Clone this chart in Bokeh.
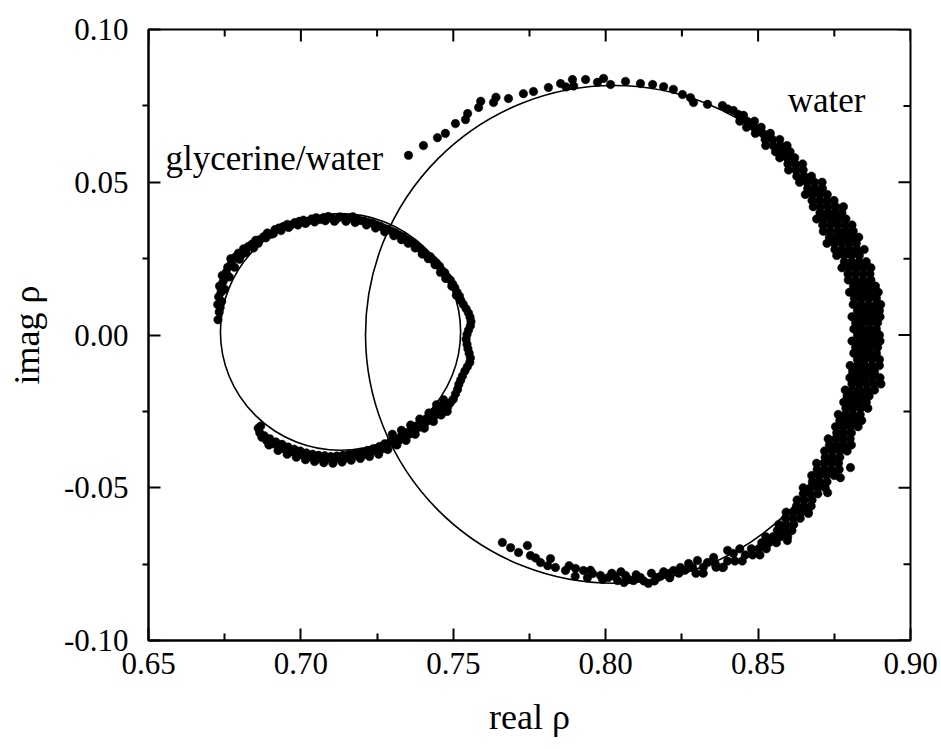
import math
from bokeh.plotting import figure
from bokeh.models import Range1d, LinearAxis, FixedTicker
from bokeh.core.properties import value
from bokeh.embed import file_html
from bokeh.resources import INLINE

# ---------------- data ----------------
x_ticks = [0.65, 0.70, 0.75, 0.80, 0.85, 0.90]
x_tick_labels = ["0.65", "0.70", "0.75", "0.80", "0.85", "0.90"]
x_minor = [0.675, 0.725, 0.775, 0.825, 0.875]
y_ticks = [-0.10, -0.05, 0.0, 0.05, 0.10]
y_tick_labels = ["-0.10", "-0.05", "0.00", "0.05", "0.10"]
y_minor = [-0.075, -0.025, 0.025, 0.075]

# fitted circles (glycerine/water, water)
fit_cx = [0.7130, 0.8027]
fit_cy = [0.0010, 0.0002]
fit_w = [0.0788, 0.1630]
fit_h = [0.0775, 0.1630]

glyc_pts = [
    # left start and upper arc
    (0.6728, 0.0050), (0.6732, 0.0075), (0.6727, 0.0100), (0.6735, 0.0090), (0.6730, 0.0125),
    (0.6738, 0.0140), (0.6733, 0.0160), (0.6745, 0.0175), (0.6742, 0.0195), (0.6755, 0.0205),
    (0.6760, 0.0222), (0.6772, 0.0235), (0.6770, 0.0250), (0.6785, 0.0255), (0.6795, 0.0268),
    (0.6805, 0.0262), (0.6812, 0.0282), (0.6828, 0.0290), (0.6840, 0.0298), (0.6852, 0.0310),
    (0.6865, 0.0312), (0.6878, 0.0322), (0.6890, 0.0334), (0.6903, 0.0330), (0.6915, 0.0345),
    (0.6928, 0.0350), (0.6942, 0.0355), (0.6955, 0.0362), (0.6968, 0.0360), (0.6980, 0.0368),
    (0.6995, 0.0372), (0.7008, 0.0376), (0.7022, 0.0372), (0.7035, 0.0380), (0.7050, 0.0384),
    (0.7062, 0.0378), (0.7075, 0.0385), (0.7090, 0.0388), (0.7102, 0.0382), (0.7115, 0.0378),
    (0.7128, 0.0386), (0.7142, 0.0384), (0.7155, 0.0380), (0.7170, 0.0387), (0.7182, 0.0379),
    (0.7195, 0.0375), (0.7208, 0.0372), (0.7222, 0.0368), (0.7235, 0.0366), (0.7248, 0.0360),
    (0.7260, 0.0356), (0.7272, 0.0350), (0.7285, 0.0346), (0.7298, 0.0340), (0.7310, 0.0335),
    (0.7322, 0.0327), (0.7335, 0.0322), (0.7347, 0.0313), (0.7358, 0.0306), (0.7370, 0.0298),
    (0.7382, 0.0290), (0.7392, 0.0282), (0.7402, 0.0272), (0.7412, 0.0262), (0.7425, 0.0256),
    (0.7435, 0.0245), (0.7445, 0.0236), (0.7455, 0.0225), (0.7462, 0.0212), (0.7472, 0.0204),
    (0.7480, 0.0190), (0.7490, 0.0180), (0.7498, 0.0167), (0.7505, 0.0155), (0.7512, 0.0140),
    (0.7520, 0.0128), (0.7525, 0.0113),
    # second (inner) row of upper arc
    (0.6740, 0.0110), (0.6750, 0.0150), (0.6765, 0.0190), (0.6782, 0.0222), (0.6798, 0.0248),
    (0.6820, 0.0270), (0.6845, 0.0285), (0.6860, 0.0300), (0.6885, 0.0318), (0.6910, 0.0332),
    (0.6935, 0.0342), (0.6960, 0.0352), (0.6990, 0.0360), (0.7015, 0.0365), (0.7045, 0.0370),
    (0.7080, 0.0374), (0.7110, 0.0372), (0.7148, 0.0372), (0.7178, 0.0368), (0.7215, 0.0360),
    (0.7245, 0.0350), (0.7275, 0.0338), (0.7305, 0.0325), (0.7330, 0.0312), (0.7352, 0.0300),
    (0.7375, 0.0285), (0.7398, 0.0265), (0.7418, 0.0250), (0.7440, 0.0230), (0.7458, 0.0205),
    (0.7475, 0.0185), (0.7495, 0.0160), (0.7510, 0.0130),
    # right side
    (0.7533, 0.0100), (0.7542, 0.0086), (0.7550, 0.0072), (0.7555, 0.0058), (0.7558, 0.0044),
    (0.7556, 0.0030), (0.7550, 0.0016), (0.7545, 0.0002), (0.7542, -0.0014), (0.7545, -0.0030),
    (0.7548, -0.0045), (0.7552, -0.0060), (0.7556, -0.0075), (0.7554, -0.0090), (0.7546, -0.0104),
    (0.7538, -0.0118), (0.7530, -0.0134), (0.7524, -0.0148), (0.7518, -0.0162), (0.7514, -0.0178),
    (0.7507, -0.0193), (0.7500, -0.0210), (0.7490, -0.0222),
    # lower arc
    (0.7482, -0.0235), (0.7470, -0.0230), (0.7465, -0.0248), (0.7455, -0.0240), (0.7450, -0.0258),
    (0.7440, -0.0250), (0.7435, -0.0268), (0.7425, -0.0262), (0.7420, -0.0280), (0.7410, -0.0275),
    (0.7405, -0.0292), (0.7395, -0.0288), (0.7388, -0.0302), (0.7378, -0.0298), (0.7372, -0.0314),
    (0.7362, -0.0310), (0.7355, -0.0325), (0.7345, -0.0320), (0.7340, -0.0335), (0.7330, -0.0330),
    (0.7322, -0.0345), (0.7312, -0.0340), (0.7305, -0.0352), (0.7295, -0.0348), (0.7285, -0.0360),
    (0.7275, -0.0356), (0.7268, -0.0372), (0.7258, -0.0365), (0.7248, -0.0378), (0.7238, -0.0372),
    (0.7228, -0.0385), (0.7218, -0.0378), (0.7208, -0.0390), (0.7198, -0.0384), (0.7188, -0.0395),
    (0.7178, -0.0388), (0.7168, -0.0398), (0.7158, -0.0390), (0.7148, -0.0402), (0.7138, -0.0394),
    (0.7128, -0.0405), (0.7118, -0.0396), (0.7108, -0.0408), (0.7098, -0.0398), (0.7088, -0.0404),
    (0.7078, -0.0395), (0.7068, -0.0406), (0.7058, -0.0394), (0.7048, -0.0402), (0.7038, -0.0390),
    (0.7028, -0.0398), (0.7018, -0.0386), (0.7008, -0.0394), (0.6998, -0.0380), (0.6988, -0.0388),
    (0.6978, -0.0374), (0.6968, -0.0382), (0.6958, -0.0367), (0.6948, -0.0374), (0.6938, -0.0358),
    (0.6928, -0.0366), (0.6918, -0.0350), (0.6908, -0.0356), (0.6898, -0.0340), (0.6888, -0.0346),
    (0.6880, -0.0330), (0.6872, -0.0335), (0.6865, -0.0320), (0.6860, -0.0305), (0.6868, -0.0298),
    # outer row of lower arc
    (0.6895, -0.0360), (0.6925, -0.0378), (0.6955, -0.0390), (0.6985, -0.0400), (0.7015, -0.0408),
    (0.7045, -0.0414), (0.7075, -0.0418), (0.7105, -0.0420), (0.7135, -0.0416), (0.7165, -0.0410),
    (0.7195, -0.0404), (0.7225, -0.0398), (0.7255, -0.0390), (0.7285, -0.0375), (0.7315, -0.0360),
    (0.7345, -0.0345), (0.7375, -0.0325), (0.7405, -0.0305), (0.7435, -0.0283), (0.7460, -0.0262),
    (0.7480, -0.0250),
    # inner row of lower-right arc
    (0.7300, -0.0325), (0.7330, -0.0312), (0.7360, -0.0295), (0.7390, -0.0275), (0.7420, -0.0255),
    (0.7445, -0.0228), (0.7468, -0.0212),
]

water_upper_pts = [
    (0.7353, 0.0588), (0.7402, 0.0620), (0.7448, 0.0646), (0.7474, 0.0660), (0.7507, 0.0692),
    (0.7547, 0.0725), (0.7540, 0.0705), (0.7583, 0.0745), (0.7590, 0.0765), (0.7632, 0.0761),
    (0.7640, 0.0778), (0.7681, 0.0774), (0.7730, 0.0790), (0.7763, 0.0797), (0.7812, 0.0810),
    (0.7852, 0.0823), (0.7870, 0.0812), (0.7891, 0.0836), (0.7895, 0.0815), (0.7934, 0.0836),
    (0.7973, 0.0827), (0.7993, 0.0840), (0.8016, 0.0820), (0.8065, 0.0830), (0.8114, 0.0823),
    (0.8154, 0.0820), (0.8190, 0.0813), (0.8222, 0.0804), (0.8252, 0.0787), (0.8278, 0.0777),
    (0.8288, 0.0761), (0.8334, 0.0755), (0.8383, 0.0751), (0.8419, 0.0735), (0.8452, 0.0719),
    (0.8475, 0.0686), (0.8400, 0.0740), (0.8435, 0.0722),
]

# dense right-hand band of the water data: (imag, [real, ...]) rows
water_band_rows = [
    (0.070, [0.8440, 0.8464, 0.8488]),
    (0.068, [0.8462, 0.8487, 0.8510]),
    (0.066, [0.8491, 0.8515, 0.8540]),
    (0.064, [0.8523, 0.8547, 0.8571]),
    (0.062, [0.8525, 0.8549, 0.8573, 0.8595]),
    (0.060, [0.8557, 0.8581, 0.8605]),
    (0.058, [0.8571, 0.8595, 0.8620]),
    (0.056, [0.8598, 0.8622, 0.8646]),
    (0.054, [0.8600, 0.8624, 0.8648]),
    (0.052, [0.8627, 0.8651, 0.8675]),
    (0.050, [0.8636, 0.8660, 0.8685, 0.8710]),
    (0.048, [0.8663, 0.8687, 0.8711]),
    (0.046, [0.8655, 0.8679, 0.8703, 0.8727]),
    (0.044, [0.8677, 0.8701, 0.8725, 0.8749]),
    (0.042, [0.8681, 0.8705, 0.8730, 0.8755, 0.8780]),
    (0.040, [0.8703, 0.8727, 0.8751, 0.8775]),
    (0.038, [0.8692, 0.8716, 0.8740, 0.8764, 0.8788]),
    (0.036, [0.8712, 0.8736, 0.8760, 0.8784, 0.8808]),
    (0.034, [0.8714, 0.8738, 0.8763, 0.8788, 0.8812]),
    (0.032, [0.8734, 0.8758, 0.8782, 0.8806, 0.8830]),
    (0.030, [0.8726, 0.8750, 0.8774, 0.8798, 0.8822]),
    (0.028, [0.8752, 0.8776, 0.8800, 0.8824, 0.8848]),
    (0.026, [0.8758, 0.8782, 0.8807, 0.8832]),
    (0.024, [0.8783, 0.8807, 0.8831, 0.8855]),
    (0.022, [0.8775, 0.8799, 0.8823, 0.8847, 0.8870]),
    (0.020, [0.8795, 0.8819, 0.8843, 0.8867]),
    (0.018, [0.8796, 0.8820, 0.8845, 0.8870]),
    (0.016, [0.8813, 0.8837, 0.8861, 0.8885]),
    (0.014, [0.8800, 0.8824, 0.8848, 0.8872, 0.8894]),
    (0.012, [0.8816, 0.8840, 0.8864, 0.8888]),
    (0.010, [0.8812, 0.8836, 0.8861, 0.8886, 0.8902]),
    (0.008, [0.8826, 0.8850, 0.8874, 0.8898]),
    (0.006, [0.8808, 0.8832, 0.8856, 0.8880, 0.8900]),
    (0.004, [0.8820, 0.8844, 0.8868, 0.8892]),
    (0.002, [0.8814, 0.8838, 0.8863, 0.8888]),
    (0.000, [0.8826, 0.8850, 0.8874, 0.8898]),
    (-0.002, [0.8808, 0.8832, 0.8856, 0.8880, 0.8900]),
    (-0.004, [0.8820, 0.8844, 0.8868, 0.8892]),
    (-0.006, [0.8814, 0.8838, 0.8863, 0.8888]),
    (-0.008, [0.8826, 0.8850, 0.8874, 0.8898]),
    (-0.010, [0.8802, 0.8826, 0.8850, 0.8874, 0.8898]),
    (-0.012, [0.8810, 0.8834, 0.8858, 0.8882]),
    (-0.014, [0.8801, 0.8825, 0.8850, 0.8875, 0.8900]),
    (-0.016, [0.8808, 0.8832, 0.8856, 0.8880, 0.8903]),
    (-0.018, [0.8786, 0.8810, 0.8834, 0.8858, 0.8882]),
    (-0.020, [0.8792, 0.8816, 0.8840, 0.8864]),
    (-0.022, [0.8781, 0.8805, 0.8830, 0.8855]),
    (-0.024, [0.8788, 0.8812, 0.8836, 0.8860]),
    (-0.026, [0.8763, 0.8787, 0.8811, 0.8835]),
    (-0.028, [0.8768, 0.8792, 0.8816, 0.8840]),
    (-0.030, [0.8754, 0.8778, 0.8803, 0.8828]),
    (-0.032, [0.8758, 0.8782, 0.8806]),
    (-0.034, [0.8730, 0.8754, 0.8778, 0.8802]),
    (-0.036, [0.8734, 0.8758, 0.8782, 0.8806]),
    (-0.038, [0.8718, 0.8742, 0.8767, 0.8792]),
    (-0.040, [0.8720, 0.8744, 0.8768]),
    (-0.042, [0.8692, 0.8716, 0.8740, 0.8764]),
    (-0.044, [0.8694, 0.8718, 0.8742, 0.8766]),
    (-0.046, [0.8676, 0.8700, 0.8725, 0.8750]),
    (-0.048, [0.8678, 0.8702, 0.8726]),
    (-0.050, [0.8648, 0.8672, 0.8696, 0.8720]),
    (-0.052, [0.8648, 0.8672, 0.8696]),
    (-0.054, [0.8628, 0.8652, 0.8677]),
    (-0.056, [0.8626, 0.8650, 0.8674]),
    (-0.058, [0.8592, 0.8616, 0.8640, 0.8664]),
    (-0.060, [0.8590, 0.8614, 0.8638]),
    (-0.062, [0.8568, 0.8592, 0.8617]),
    (-0.064, [0.8563, 0.8587, 0.8611]),
    (-0.066, [0.8525, 0.8549, 0.8573, 0.8597]),
    (-0.068, [0.8512, 0.8536, 0.8560]),
    (-0.070, [0.8478, 0.8502, 0.8527]),
    (-0.072, [0.8458, 0.8482, 0.8506]),
    (-0.074, [0.8400, 0.8424, 0.8448]),
    (-0.076, [0.8362, 0.8386]),
    (-0.078, [0.8296, 0.8320]),
]

water_lower_pts = [
    # scattered points just outside the lower-right band
    (0.8770, -0.0467), (0.8728, -0.0516), (0.8665, -0.0584), (0.8596, -0.0673), (0.8803, -0.0434),
    # bottom arc
    (0.7661, -0.0679), (0.7688, -0.0696), (0.7714, -0.0712), (0.7743, -0.0689), (0.7753, -0.0722),
    (0.7786, -0.0745), (0.7819, -0.0732), (0.7835, -0.0761), (0.7868, -0.0771), (0.7901, -0.0764),
    (0.7927, -0.0771), (0.7957, -0.0781), (0.7983, -0.0787), (0.8009, -0.0794), (0.8039, -0.0804),
    (0.8065, -0.0787), (0.8091, -0.0804), (0.8114, -0.0794), (0.8140, -0.0813), (0.8170, -0.0794),
    (0.8203, -0.0781), (0.8222, -0.0771), (0.8245, -0.0761), (0.8272, -0.0748), (0.8301, -0.0738),
    (0.8334, -0.0745), (0.8354, -0.0728), (0.8383, -0.0761), (0.8400, -0.0705), (0.8419, -0.0715),
    (0.7950, -0.0770), (0.8020, -0.0780), (0.8100, -0.0785), (0.8160, -0.0805), (0.8060, -0.0810),
    (0.8190, -0.0775), (0.8260, -0.0770), (0.8320, -0.0760), (0.8440, -0.0700), (0.8360, -0.0750),
    (0.7900, -0.0790), (0.7940, -0.0795), (0.7990, -0.0800), (0.8030, -0.0790), (0.8075, -0.0800),
    (0.8125, -0.0805), (0.8180, -0.0790), (0.8210, -0.0795), (0.8240, -0.0780), (0.8285, -0.0760),
    (0.7880, -0.0755), (0.7810, -0.0755), (0.7770, -0.0730), (0.8150, -0.0780), (0.8050, -0.0775),
]

glyc_real = [pt[0] for pt in glyc_pts]
glyc_imag = [pt[1] for pt in glyc_pts]
water_real = [pt[0] for pt in water_upper_pts]
water_imag = [pt[1] for pt in water_upper_pts]
for row_y, row_xs in water_band_rows:
    for row_x in row_xs:
        water_real.append(row_x)
        water_imag.append(row_y)
water_real += [pt[0] for pt in water_lower_pts]
water_imag += [pt[1] for pt in water_lower_pts]

label_text = ["glycerine/water", "water"]
label_x = [0.6556, 0.8597]
label_y = [0.0578, 0.0768]

# ---------------- figure ----------------
FONT = "Liberation Serif"
X0, X1, Y0, Y1 = 0.65, 0.90, -0.10, 0.10
p = figure(width=941, height=749, output_backend="svg", toolbar_location=None,
           x_range=Range1d(X0, X1), y_range=Range1d(Y0, Y1),
           x_axis_type=None, y_axis_type=None,
           min_border_left=148, min_border_right=31, min_border_top=29, min_border_bottom=109)
p.grid.visible = False
p.outline_line_color = "black"
p.outline_line_width = 2
p.background_fill_color = "white"
p.border_fill_color = "white"


def style(ax, ticks, minor, labels):
    ax.ticker = FixedTicker(ticks=ticks, minor_ticks=minor)
    ax.major_label_overrides = {t: l for t, l in zip(ticks, labels)}
    ax.axis_line_width = 2
    ax.axis_line_color = "black"
    ax.major_tick_line_width = 2
    ax.minor_tick_line_width = 2
    ax.major_tick_in = 12
    ax.major_tick_out = 0
    ax.minor_tick_in = 7
    ax.minor_tick_out = 0
    ax.major_label_text_font = FONT
    ax.major_label_text_color = "black"
    ax.major_label_text_font_size = "31px"
    ax.axis_label_text_font = FONT
    ax.axis_label_text_font_style = "normal"
    ax.axis_label_text_font_size = "36px"
    ax.axis_label_text_color = "black"


xb = LinearAxis(axis_label="real ρ")
style(xb, x_ticks, x_minor, x_tick_labels)
xb.major_label_standoff = 12
xb.axis_label_standoff = 20
p.add_layout(xb, "below")

yl = LinearAxis(axis_label="imag ρ")
style(yl, y_ticks, y_minor, y_tick_labels)
yl.minor_tick_in = 0
yl.minor_tick_out = 6
yl.major_label_standoff = 14
yl.axis_label_standoff = 14
p.add_layout(yl, "left")

# mirrored inward ticks on the top and right frame edges (clipped to the frame)
p.scatter(x=x_ticks, y=[Y1] * len(x_ticks), marker="dash", size=24, angle=math.pi / 2,
          line_color="black", line_width=2)
p.scatter(x=x_minor, y=[Y1] * len(x_minor), marker="dash", size=14, angle=math.pi / 2,
          line_color="black", line_width=2)
p.scatter(x=[X1] * len(y_ticks), y=y_ticks, marker="dash", size=24,
          line_color="black", line_width=2)
p.scatter(x=[X1] * len(y_minor), y=y_minor, marker="dash", size=14,
          line_color="black", line_width=2)

# fitted circles
p.ellipse(x=fit_cx, y=fit_cy, width=fit_w, height=fit_h,
          fill_color=None, line_color="black", line_width=1.6)

# measured points
p.scatter(x=water_real, y=water_imag, size=8.5, marker="circle",
          fill_color="black", line_color="black", line_width=0.5)
p.scatter(x=glyc_real, y=glyc_imag, size=8.5, marker="circle",
          fill_color="black", line_color="black", line_width=0.5)

p.text(x=label_x, y=label_y, text=label_text, text_font=value(FONT),
       text_font_size="35px", text_color="black",
       text_align="left", text_baseline="alphabetic")

open("out.html", "w").write(file_html(p, INLINE))
